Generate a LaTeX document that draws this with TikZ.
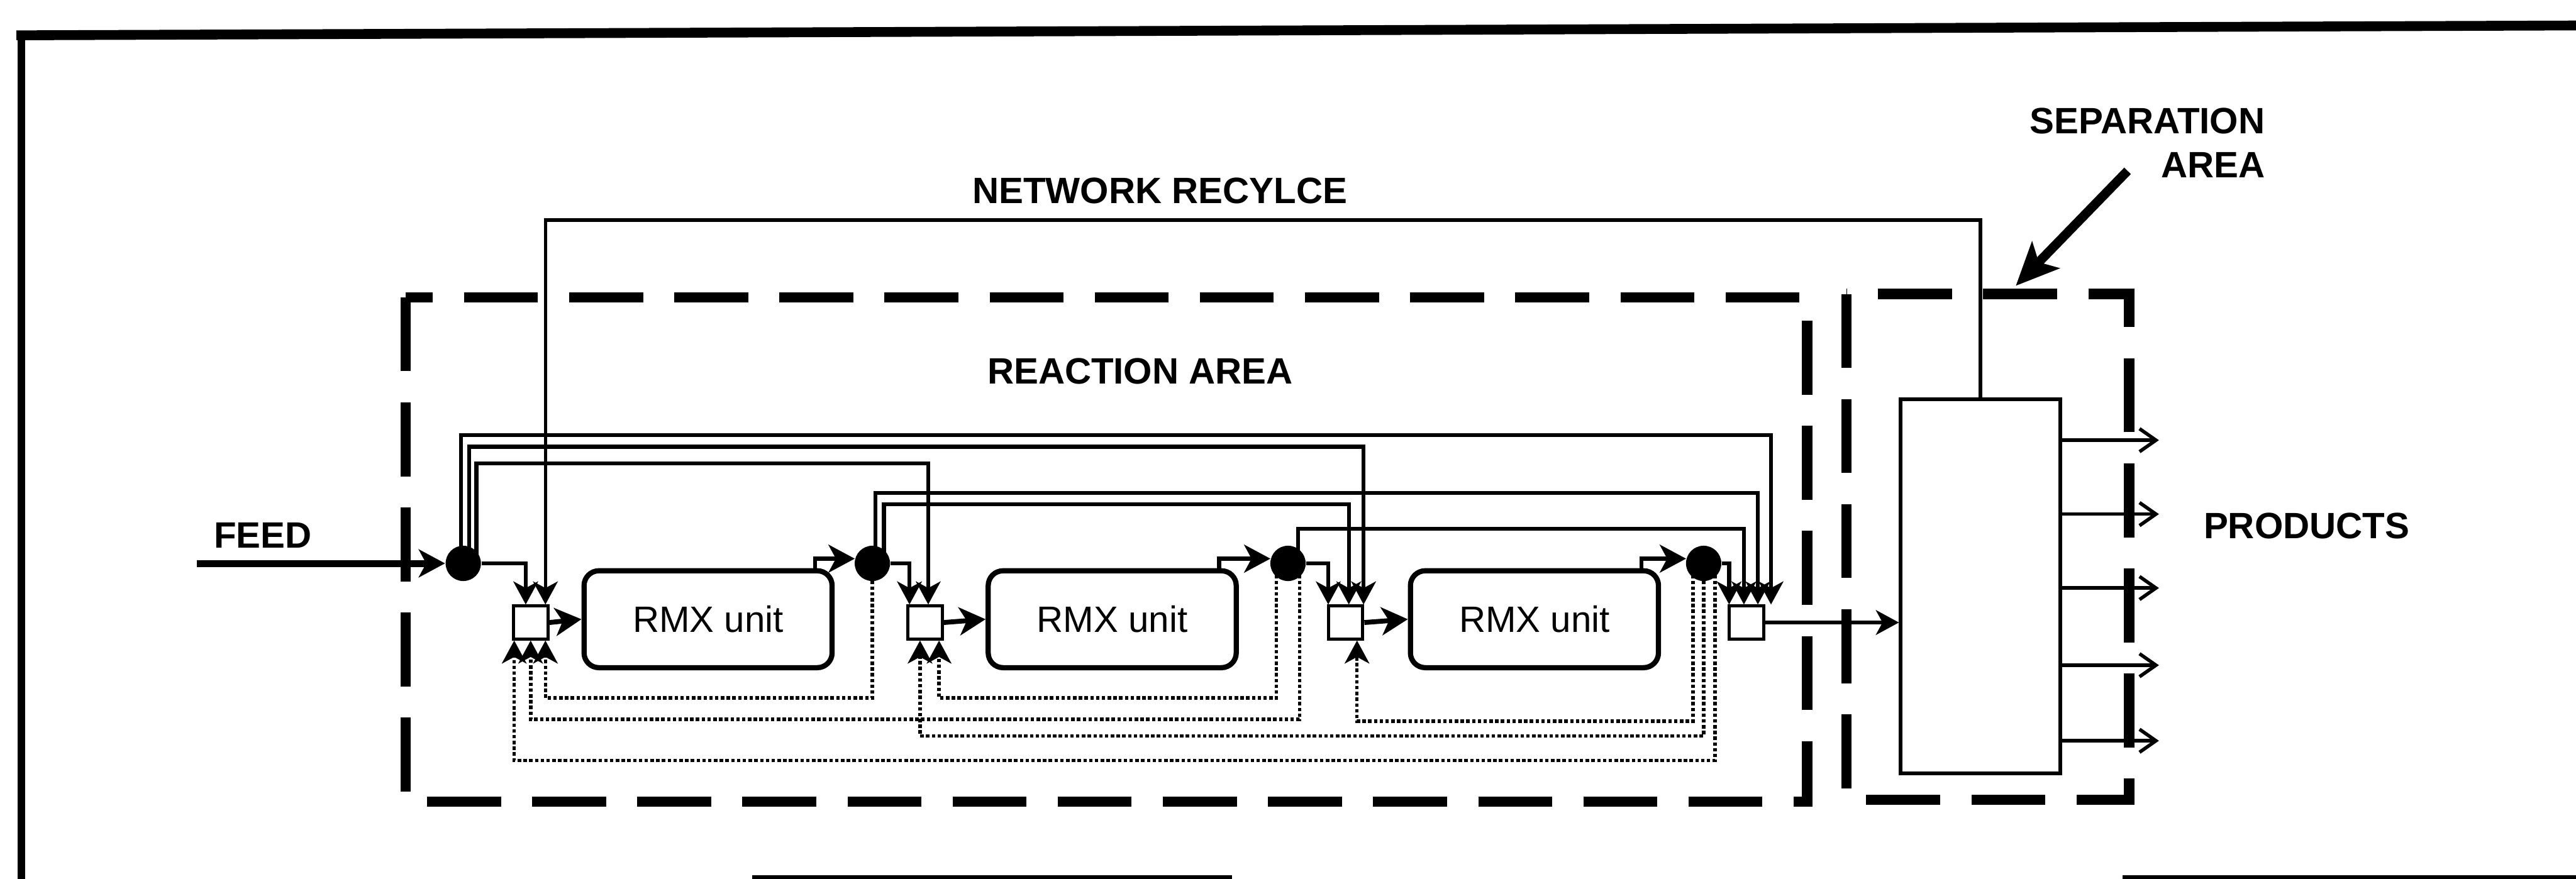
\documentclass[tikz,border=0pt]{standalone}
\usepackage{fontspec}
\setmainfont{Liberation Sans}
\usetikzlibrary{arrows.meta,calc}

\begin{document}
\begin{tikzpicture}[x=0.02cm,y=-0.02cm,
  big/.tip={Stealth[length=0.32cm,width=0.34cm,inset=0.09cm]},
  small/.tip={Stealth[length=0.28cm,width=0.3cm,inset=0.08cm]},
  lbl/.style={font=\fontsize{12.7}{15.4}\selectfont\bfseries,inner sep=0pt},
  zone/.style={line width=3.6pt,dash pattern=on 0.9cm off 0.38cm},
  pipe/.style={line width=1.35pt},
  rcy/.style={line width=1.2pt,dash pattern=on 1.2pt off 0.8pt},
  splitter/.style={circle,fill=black,minimum size=0.43cm,inner sep=0pt},
  mixer/.style={draw,line width=1.1pt,fill=white,minimum width=0.42cm,minimum height=0.4cm,inner sep=0pt},
  rmx/.style={draw,line width=1.8pt,rounded corners=0.18cm,minimum width=3.02cm,minimum height=1.18cm,
    inner sep=0pt,font=\fontsize{12.7}{15}\selectfont}]
  \useasboundingbox (0,0) rectangle (1568,535);

  \draw[line width=3.4pt] (10,21.5) -- (1568,15.5);
  \draw[line width=2.5pt] (13,20) -- (13,535);
  \draw[line width=1.2pt] (458,534) -- (750,534);
  \draw[line width=1.2pt] (1292,534) -- (1568,534);

  \draw[zone] (247,181) rectangle (1100,488);
  \draw[zone] (1124,179) rectangle (1296,487);

  \node[lbl] (netlbl) at (706,116) {NETWORK RECYLCE};
  \node[lbl] (reactlbl) at (694,226) {REACTION AREA};
  \node[lbl,align=right,anchor=east] (seplbl) at (1379,87) {SEPARATION\\AREA};
  \node[lbl] (feedlbl) at (160,326) {FEED};
  \node[lbl] (prodlbl) at (1404,320) {PRODUCTS};

  \node[splitter] (S0) at (282,343) {};
  \node[splitter] (S1) at (531,343) {};
  \node[splitter] (S2) at (784,343) {};
  \node[splitter] (S3) at (1037,343) {};
  \node[mixer] (M1) at (323,379) {};
  \node[mixer] (M2) at (563,379) {};
  \node[mixer] (M3) at (819,379) {};
  \node[mixer] (M4) at (1063,379) {};
  \node[rmx] (R1) at (431,377) {RMX unit};
  \node[rmx] (R2) at (677,377) {RMX unit};
  \node[rmx] (R3) at (934,377) {RMX unit};
  \node[draw,line width=1.3pt,minimum width=1.94cm,minimum height=4.56cm,inner sep=0pt] (sep) at (1205.5,357) {};

  \coordinate (feed) at (120,343);
  \draw[pipe,line width=2.4pt,-big] (feed) -- (S0.west);

  \foreach \i in {1,2,3}
    \draw[pipe,line width=1.7pt,-big] (M\i.east) -- (R\i.west);
  \foreach \i/\j in {1/1,2/2,3/3}
    \draw[pipe,-big] ($(R\i.north east)+(-12,0)$) |- (S\j.165);

  \foreach \src/\dst/\db in {S0/M1/-3,S1/M2/-9.4,S2/M3/-10.5,S3/M4/-10.5}
  {
    \coordinate (q) at ($(\dst.north)+(\db,0)$);
    \draw[pipe,-small] (\src.east) -| (q);
  }
  \foreach \src/\da/\dst/\db/\lv in {S0/-1.4/M4/15/265,S0/3.7/M3/11/272,S0/8/M2/2/282,
                                     S1/2/M4/7/300,S1/7/M3/2/307,S2/6/M4/-1.5/322}
  {
    \coordinate (p) at ($(\src.center)+(\da,0)$);
    \coordinate (q) at ($(\dst.north)+(\db,0)$);
    \coordinate (h) at (0,\lv);
    \draw[pipe,-small] (p) |- (h -| q) -- (q);
  }
  \foreach \src/\da/\dst/\db/\lv in {S1/0/M1/9/425,S2/-7/M2/8.6/425,S2/7/M1/0/438,
                                     S3/-6.5/M3/7/439,S3/0/M2/-3/448,S3/7/M1/-10/463}
  {
    \coordinate (p) at ($(\src.center)+(\da,0)$);
    \coordinate (q) at ($(\dst.south)+(\db,0)$);
    \coordinate (h) at (0,\lv);
    \draw[rcy,-small] (p) |- (h -| q) -- (q);
  }

  \coordinate (nettop) at (0,134);
  \coordinate (q) at ($(M1.north)+(9,0)$);
  \draw[pipe,line width=1.2pt,-small] (sep.north) |- (nettop -| q) -- (q);

  \draw[pipe,-small] (M4.east) -- (M4.east -| sep.west);
  \foreach \y in {268,313,358,405,451}
    \draw[pipe,line width=1.2pt,-{Straight Barb[length=0.2cm,width=0.28cm]}] (sep.east |- 0,\y) -- ++(59,0);

  \coordinate (septip) at (1227,174);
  \draw[line width=3.2pt,-{Stealth[length=0.52cm,width=0.46cm,inset=0.12cm]}]
    ($(seplbl.east)+(-84,17)$) -- (septip);
\end{tikzpicture}
\end{document}
